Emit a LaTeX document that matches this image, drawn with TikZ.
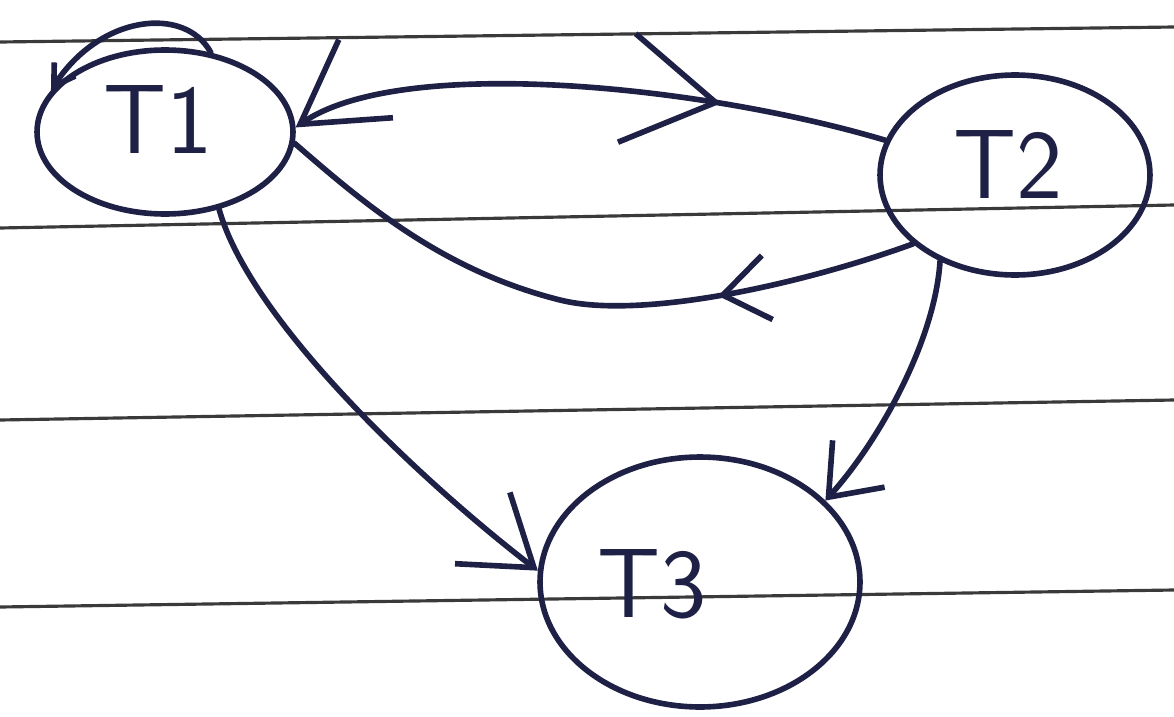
\documentclass[tikz,border=0pt]{standalone}
\usepackage{tikz}
\usetikzlibrary{arrows.meta,shapes.geometric,decorations.markings}
\definecolor{ink}{HTML}{1E2145}
\definecolor{rule}{HTML}{3A3A3A}

\begin{document}
\begin{tikzpicture}[x=0.02cm, y=-0.02cm,
    state/.style={draw=ink, ellipse, line width=3.2pt, inner sep=0pt},
    lbl/.style={font=\sffamily\fontsize{56}{60}\selectfont, text=ink},
    ruling/.style={draw=rule, line width=1.8pt},
    edge/.style={draw=ink, line width=3.2pt, line cap=round}]
  \useasboundingbox (0,0) rectangle (1174,717);
  % ruled paper
  \draw[ruling] (0,42) -- (1174,27);
  \draw[ruling] (0,228) -- (1174,205);
  \draw[ruling] (0,420) -- (1174,400);
  \draw[ruling] (0,607) -- (1174,590);
  % transactions
  \node[state, minimum width=5.12cm, minimum height=3.28cm] (t1) at (165,132) {};
  \node[state, minimum width=5.4cm, minimum height=4.0cm] (t2) at (1015,175) {};
  \node[state, minimum width=6.4cm, minimum height=5.0cm] (t3) at (700,582) {};
  \node[lbl] (t1l) at (158,120) {T1};
  \node[lbl] (t2l) at (1008,165) {T2};
  \node[lbl] (t3l) at (652,584) {T3};
  % edges
  \draw[edge, {Straight Barb[length=16mm,width=19mm]}-,
        postaction={decorate, decoration={markings,
          mark=at position 0.72 with {\arrow{Straight Barb[length=18mm,width=22mm]}}}}]
    (t1.2) .. controls (400,55) and (700,85) .. (t2.165);
  \draw[edge,
        postaction={decorate, decoration={markings,
          mark=at position 0.3 with {\arrow{Straight Barb[length=9mm,width=13mm]}}}}]
    (t2.214) .. controls (800,285) and (640,320) .. (560,300)
             .. controls (440,270) and (360,200) .. (t1.-5);
  \draw[edge, -{Straight Barb[length=13mm,width=18mm]}]
    (t1.-55) .. controls (250,320) and (420,480) .. (t3.176);
  \draw[edge, -{Straight Barb[length=9mm,width=14mm]}]
    (t2.229) .. controls (935,340) and (880,440) .. (t3.33);
  \draw[edge, -{Straight Barb[length=4mm,width=5mm]}]
    (t1.60) .. controls (185,5) and (100,15) .. (t1.160);
\end{tikzpicture}
\end{document}
